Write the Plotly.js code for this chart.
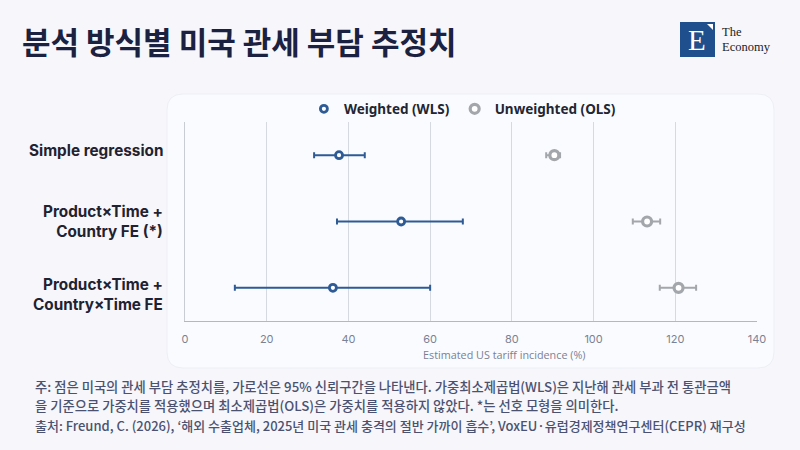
<!DOCTYPE html>
<html>
<head>
<meta charset="utf-8">
<script src="https://cdn.plot.ly/plotly-3.0.1.min.js"></script>
<style>
html,body{margin:0;padding:0;background:#f6f6fb;}
#chart{width:800px;height:450px;}
</style>
</head>
<body>
<div id="chart"></div>
<script>
// ---- data ----
const models = ["Simple regression", "Product×Time +<br>Country FE (*)", "Product×Time +<br>Country×Time FE"];
const wlsEstimate = [37.7, 52.9, 36.2];
const wlsLow = [31.6, 37.2, 12.2];
const wlsHigh = [44.0, 68.0, 60.0];
const olsEstimate = [90.4, 113.1, 120.8];
const olsLow = [88.4, 109.6, 116.2];
const olsHigh = [91.8, 116.3, 125.1];
const seriesNames = ["Weighted (WLS)", "Unweighted (OLS)"];
const xTicks = [0, 20, 40, 60, 80, 100, 120, 140];

const W = 800, H = 450;
const px = v => v / W;
const py = v => 1 - v / H;

function errs(est, lo, hi) {
  return {
    plus: est.map((e, i) => hi[i] - e),
    minus: est.map((e, i) => e - lo[i])
  };
}
const wE = errs(wlsEstimate, wlsLow, wlsHigh);
const oE = errs(olsEstimate, olsLow, olsHigh);

const BLUE = "#2e5b96";
const GREY = "#a3a6ab";

const traces = [
  {
    type: "scatter", mode: "markers", name: seriesNames[0],
    x: wlsEstimate, y: models,
    marker: {symbol: "circle", size: 7, color: "#ffffff", line: {color: BLUE, width: 2.8}},
    error_x: {type: "data", symmetric: false, array: wE.plus, arrayminus: wE.minus,
              color: BLUE, thickness: 2, width: 3},
    hoverinfo: "skip"
  },
  {
    type: "scatter", mode: "markers", name: seriesNames[1],
    x: olsEstimate, y: models,
    marker: {symbol: "circle", size: 9, color: "#ffffff", line: {color: GREY, width: 3.2}},
    error_x: {type: "data", symmetric: false, array: oE.plus, arrayminus: oE.minus,
              color: GREY, thickness: 2, width: 3},
    hoverinfo: "skip"
  }
];

// rounded card
function roundRect(x0, y0, x1, y1, r) {
  const X0 = px(x0), X1 = px(x1), Y0 = py(y0), Y1 = py(y1);
  const rx = r / W, ry = r / H;
  return `M ${X0+rx},${Y0} L ${X1-rx},${Y0} Q ${X1},${Y0} ${X1},${Y0-ry} L ${X1},${Y1+ry} Q ${X1},${Y1} ${X1-rx},${Y1} L ${X0+rx},${Y1} Q ${X0},${Y1} ${X0},${Y1+ry} L ${X0},${Y0-ry} Q ${X0},${Y0} ${X0+rx},${Y0} Z`;
}

// category labels drawn as annotations (right-aligned, slight vertical offsets as in the source)
const labelShift = [5, 0, -7];
const labelAnnots = models.map((m, i) => ({
  text: m, xref: "paper", yref: "y", x: px(165), y: m,
  xanchor: "right", yanchor: "middle", align: "right", showarrow: false, yshift: labelShift[i],
  font: {family: "Inter, sans-serif", size: 15.3, color: "#1f2230", weight: 700}
}));

const noteColor = "#4b5270";
const noteFont = "Noto Sans CJK KR, sans-serif";
const layout = {
  width: W, height: H,
  margin: {l: 0, r: 0, t: 0, b: 0, autoexpand: false},
  paper_bgcolor: "#f6f6fb",
  plot_bgcolor: "rgba(0,0,0,0)",
  showlegend: true,
  legend: {
    orientation: "h", x: 0.578, xanchor: "center", y: py(109), yanchor: "middle",
    font: {family: "Noto Sans, sans-serif", size: 13.5, color: "#222633", weight: 700},
    bgcolor: "rgba(0,0,0,0)", itemwidth: 30, traceorder: "normal"
  },
  xaxis: {
    domain: [px(185), px(757)],
    range: [0, 140],
    autorange: false,
    tickvals: xTicks,
    ticktext: xTicks.map(String),
    showgrid: true, gridcolor: "#d6d9df", gridwidth: 1,
    zeroline: false,
    showline: true, linecolor: "#b3b7c0", linewidth: 1.2,
    ticks: "", ticklabelstandoff: 8,
    tickfont: {family: "Inter, sans-serif", size: 11, color: "#7b8194"},
    fixedrange: true, automargin: false
  },
  yaxis: {
    domain: [py(321), py(122)],
    type: "category",
    categoryorder: "array", categoryarray: models,
    range: [2.5, -0.5],
    autorange: false,
    showgrid: false, zeroline: false,
    showline: true, linecolor: "#c9ccd3", linewidth: 1,
    ticks: "", showticklabels: false,
    fixedrange: true, automargin: false
  },
  shapes: [
    {type: "path", xref: "paper", yref: "paper", path: roundRect(167, 94, 774, 368, 16),
     fillcolor: "#fafbfe", line: {color: "#eeeff5", width: 1}, layer: "below"},
    {type: "rect", xref: "paper", yref: "paper", x0: px(680), x1: px(715), y0: py(57), y1: py(22),
     fillcolor: "#1f4f8d", line: {width: 0}},
    {type: "path", xref: "paper", yref: "paper",
     path: `M ${px(707)},${py(24)} L ${px(713)},${py(24)} L ${px(713)},${py(30)} Z`,
     fillcolor: "#ffffff", line: {width: 0}}
  ],
  annotations: labelAnnots.concat([
    {text: "분석 방식별 미국 관세 부담 추정치", xref: "paper", yref: "paper",
     x: px(20), y: py(40), xanchor: "left", yanchor: "middle", showarrow: false,
     font: {family: "Noto Sans CJK KR, sans-serif", size: 31, color: "#1b2140", weight: 700}},
    {text: "E", xref: "paper", yref: "paper", x: px(697), y: py(40), xanchor: "center", yanchor: "middle",
     showarrow: false, font: {family: "Liberation Serif, serif", size: 29, color: "#ffffff"}},
    {text: "The", xref: "paper", yref: "paper", x: px(720), y: py(32), xanchor: "left", yanchor: "middle",
     showarrow: false, font: {family: "Liberation Serif, serif", size: 12.5, color: "#222"}},
    {text: "Economy", xref: "paper", yref: "paper", x: px(720), y: py(47), xanchor: "left", yanchor: "middle",
     showarrow: false, font: {family: "Liberation Serif, serif", size: 12.5, color: "#222"}},
    {text: "Estimated US tariff incidence (%)", xref: "paper", yref: "paper",
     x: px(504), y: py(354), xanchor: "center", yanchor: "middle", showarrow: false,
     font: {family: "Open Sans, sans-serif", size: 10.8, color: "#7b8194"}},
    {text: "주: 점은 미국의 관세 부담 추정치를, 가로선은 95% 신뢰구간을 나타낸다. 가중최소제곱법(WLS)은 지난해 관세 부과 전 통관금액",
     xref: "paper", yref: "paper", x: px(33), y: py(386), xanchor: "left", yanchor: "middle", showarrow: false,
     font: {family: noteFont, size: 13.3, color: noteColor, weight: 500}},
    {text: "을 기준으로 가중치를 적용했으며 최소제곱법(OLS)은 가중치를 적용하지 않았다. *는 선호 모형을 의미한다.",
     xref: "paper", yref: "paper", x: px(33), y: py(405), xanchor: "left", yanchor: "middle", showarrow: false,
     font: {family: noteFont, size: 13.3, color: noteColor, weight: 500}},
    {text: "출처: Freund, C. (2026), ‘해외 수출업체, 2025년 미국 관세 충격의 절반 가까이 흡수’, VoxEU·유럽경제정책연구센터(CEPR) 재구성",
     xref: "paper", yref: "paper", x: px(33), y: py(425), xanchor: "left", yanchor: "middle", showarrow: false,
     font: {family: noteFont, size: 13, color: noteColor, weight: 500}}
  ])
};

Plotly.newPlot("chart", traces, layout, {displayModeBar: false, staticPlot: true});
</script>
</body>
</html>
